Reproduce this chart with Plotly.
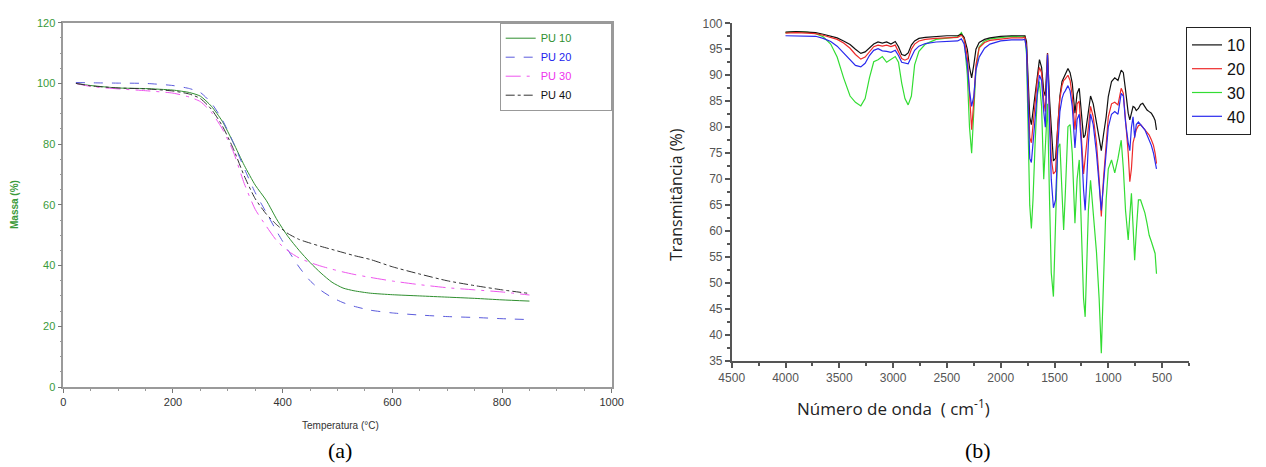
import plotly.graph_objects as go

# ---------------- TGA data (a) ----------------
tga_temp = [23, 50, 100, 150, 200, 230, 250, 270, 290, 310, 330, 350, 370, 390, 410,
            430, 450, 470, 490, 510, 530, 560, 600, 650, 700, 750, 800, 850]
pu10 = [100, 99.3, 98.5, 98.3, 97.8, 97.0, 95.8, 92.5, 87.5, 80.5, 73, 66.5, 61.5, 55, 49.5,
        45, 41, 37.5, 34.5, 32.6, 31.7, 30.9, 30.4, 30.0, 29.6, 29.2, 28.7, 28.3]
pu20 = [100.3, 100.2, 100.1, 100, 99.3, 98.3, 97, 93.5, 88, 80.5, 72, 64, 57.5, 51, 45,
        39.5, 35, 31.8, 29.5, 27.8, 26.6, 25.3, 24.4, 23.7, 23.2, 22.9, 22.5, 22.2]
pu30 = [100, 99, 98.2, 97.6, 96.8, 95.5, 94, 90.5, 85, 77.5, 67, 58.5, 53, 48, 44.8,
        42.5, 41, 39.8, 38.8, 37.9, 37.1, 36.1, 34.9, 33.7, 32.7, 32.0, 31.3, 30.3]
pu40 = [100, 99.2, 98.5, 98.2, 97.5, 96.5, 95, 91.5, 86, 78.5, 69.5, 62, 57, 53.3, 50.5,
        48.6, 47.4, 46.3, 45.3, 44.3, 43.3, 42.0, 39.6, 37.2, 35.0, 33.4, 32.0, 30.8]
tga_names = ["PU 10", "PU 20", "PU 30", "PU 40"]

# ---------------- FTIR data (b) ----------------
wn = [4000, 3900, 3800, 3720, 3650, 3580, 3520, 3460, 3400, 3350, 3300, 3260, 3220, 3180,
      3140, 3100, 3060, 3020, 2980, 2950, 2920, 2890, 2860, 2830, 2800, 2760, 2700, 2600,
      2500, 2400, 2365, 2340, 2310, 2290, 2270, 2250, 2230, 2200, 2150, 2100, 2000, 1900,
      1800, 1775, 1760, 1745, 1730, 1715, 1700, 1680, 1660, 1640, 1620, 1600, 1585, 1565,
      1545, 1530, 1510, 1490, 1470, 1450, 1430, 1415, 1400, 1375, 1355, 1335, 1310, 1290,
      1270, 1250, 1230, 1215, 1200, 1185, 1165, 1140, 1110, 1085, 1065, 1045, 1020, 1000,
      970, 940, 910, 880, 860, 840, 815, 800, 785, 770, 755, 740, 720, 700, 680, 660, 640,
      620, 600, 580, 565, 552]

t10 = [98.3, 98.4, 98.3, 98.2, 97.9, 97.6, 97.2, 96.6, 95.9, 95.0, 94.2, 94.5, 95.3, 96.0,
       96.4, 96.2, 96.4, 96.0, 96.5, 95.5, 94.0, 93.8, 94.3, 95.8, 96.6, 97.1, 97.3, 97.5,
       97.6, 97.6, 97.9, 97.3, 95.0, 91.5, 89.5, 92.0, 95.0, 96.3, 96.9, 97.2, 97.5, 97.6,
       97.5, 97.6, 96.5, 88.5, 82.0, 80.5, 83.0, 86.5, 90.5, 93.0, 91.5, 87.0, 86.0, 94.3,
       85.0, 79.0, 73.5, 74.0, 81.0, 86.0, 88.8, 89.5, 90.0, 91.3, 90.5, 88.5, 82.7, 86.5,
       87.5, 82.0, 78.0, 78.5, 81.0, 83.0, 86.0, 84.5, 81.0, 78.0, 75.5, 78.5, 82.0, 85.9,
       88.8, 89.5, 89.0, 91.0, 90.5, 87.2, 82.7, 81.4, 83.0, 84.0, 83.8, 83.2, 83.6, 84.4,
       84.6, 83.8, 83.3, 83.0, 82.7, 82.0, 81.3, 79.5]

t20 = [98.1, 98.2, 98.1, 98.0, 97.7, 97.3, 96.9, 96.2, 95.2, 94.0, 93.1, 93.5, 94.5, 95.5,
       95.8, 95.6, 95.8, 95.5, 95.8, 94.5, 93.2, 92.9, 93.2, 95.0, 96.0, 96.6, 96.9, 97.1,
       97.2, 97.3, 97.7, 97.0, 93.5, 86.0, 79.5, 85.0, 92.0, 95.3, 96.3, 96.7, 97.0, 97.2,
       97.2, 97.3, 95.5, 85.0, 78.0, 77.0, 80.5, 85.0, 89.0, 91.5, 90.5, 85.0, 83.0, 94.2,
       80.0, 74.0, 71.0, 71.5, 80.0, 85.5, 88.0, 89.0, 89.3, 90.0, 89.0, 86.0, 79.5, 84.5,
       85.0, 79.0, 71.0, 74.0, 77.0, 80.0, 84.0, 82.0, 77.0, 70.0, 62.8, 70.0, 77.0, 82.0,
       84.5, 84.8, 84.3, 87.5, 86.5, 82.0, 75.0, 69.5, 72.0, 77.0, 78.5, 79.5, 80.3, 80.5,
       80.0, 79.5, 79.0, 78.5, 77.6, 76.5, 75.0, 73.0]

t30 = [98.2, 98.4, 98.3, 98.0, 97.4, 96.0, 93.5, 89.5, 86.0, 84.8, 84.1, 85.5, 89.5, 92.6,
       93.0, 93.6, 92.5, 93.0, 93.6, 92.5, 88.5, 85.5, 84.3, 86.0, 92.0, 94.6, 96.0, 96.9,
       97.2, 97.4, 98.2, 97.0, 90.0, 80.0, 75.0, 82.0, 91.0, 95.5, 96.6, 97.0, 97.3, 97.5,
       97.4, 97.5, 94.0, 78.0, 65.0, 60.5, 66.0, 77.0, 86.0, 88.8, 84.0, 70.0, 76.0, 84.5,
       65.0, 52.0, 47.4, 60.0, 76.0, 76.8, 68.0, 60.2, 67.0, 80.1, 80.5, 75.0, 61.5, 70.0,
       73.7, 62.0, 47.0, 43.5, 55.0, 64.0, 69.8, 63.0, 56.0, 47.0, 36.5, 50.0, 66.0, 72.0,
       73.7, 71.2, 74.0, 77.5, 72.0, 64.0, 58.3, 63.0, 67.3, 61.0, 54.4, 60.0, 66.0, 66.0,
       64.7, 63.5, 61.5, 59.2, 58.0, 56.5, 55.7, 51.8]

t40 = [97.6, 97.6, 97.6, 97.5, 97.1, 96.5, 95.6, 94.3, 93.0, 91.9, 91.6, 92.3, 93.8, 94.8,
       95.1, 94.7, 94.6, 94.4, 94.8, 93.8, 92.5, 92.3, 92.2, 93.5, 94.8, 95.6, 96.1, 96.4,
       96.5, 96.6, 97.0, 96.0, 92.0, 87.0, 84.0, 86.0, 91.0, 93.5, 95.2, 96.0, 96.6, 96.8,
       96.8, 96.9, 95.0, 82.0, 74.0, 73.2, 77.0, 82.0, 86.5, 90.0, 89.0, 83.0, 80.0, 94.0,
       77.0, 70.0, 64.5, 66.0, 76.0, 83.0, 85.5, 86.5, 87.0, 88.0, 87.0, 84.0, 76.0, 81.5,
       82.5, 76.5, 68.0, 64.0, 70.0, 77.0, 82.5, 80.5, 75.0, 68.5, 64.0, 69.0, 76.0, 80.0,
       82.5, 83.0, 82.5, 86.5, 86.0, 81.0, 77.0, 75.5, 80.0, 82.0, 78.0, 80.5, 81.0, 80.5,
       80.0, 79.5, 78.5, 77.5, 76.5, 75.0, 73.5, 72.0]
ftir_names = ["10", "20", "30", "40"]

W, H = 1266, 467
def px(x):
    return x / W
def py(y):
    return (H - y) / H

fig = go.Figure()

# ---- TGA traces
tga_style = [
    (pu10, "#2f8f2f", "solid", "#2f8f2f"),
    (pu20, "#5b5bdc", "dash", "#2222ee"),
    (pu30, "#ee55ee", "longdashdot", "#ee33ee"),
    (pu40, "#333333", "dashdot", "#111111"),
]
pad = "&nbsp;" * 11
for name, (vals, col, dash, tcol) in zip(tga_names, tga_style):
    fig.add_trace(go.Scatter(
        x=tga_temp, y=vals, mode="lines",
        line=dict(color=col, width=1, dash=dash, shape="spline", smoothing=0.6),
        name=f"<span style='color:{tcol}'>{name}</span>{pad}", xaxis="x", yaxis="y", legend="legend"))

# ---- FTIR traces (green drawn first, underneath)
ftir_series = {"10": (t10, "#111111"), "20": (t20, "#ee2a2a"), "30": (t30, "#33dd33"), "40": (t40, "#2a2aee")}
for rank, key in [(3, "30"), (1, "10"), (2, "20"), (4, "40")]:
    vals, col = ftir_series[key]
    fig.add_trace(go.Scatter(
        x=wn, y=vals, mode="lines", line=dict(color=col, width=1.2),
        name=key, xaxis="x2", yaxis="y2", legend="legend2", legendrank=rank))

axis_font = dict(family="Liberation Sans, Arial", size=11)

def note(text, x, y, size, family, color="#222", angle=0):
    return dict(text=text, x=px(x), y=py(y), xref="paper", yref="paper",
                xanchor="center", yanchor="middle", textangle=angle, showarrow=False,
                font=dict(family=family, size=size, color=color))

fig.update_layout(
    width=W, height=H, autosize=False,
    margin=dict(l=0, r=0, t=0, b=0, pad=0, autoexpand=False),
    paper_bgcolor="white", plot_bgcolor="white",
    showlegend=True,
    xaxis=dict(domain=[px(63.3), px(611.7)], range=[0, 1000], dtick=200, tick0=0, automargin=False,
               showgrid=False, zeroline=False, showline=True, linecolor="#9a9a9a", linewidth=1.5,
               mirror=True, ticks="outside", ticklen=4, tickcolor="#777",
               minor=dict(dtick=50, ticks="outside", ticklen=2, tickcolor="#999"),
               tickfont=dict(axis_font, color="#333"), anchor="y"),
    yaxis=dict(domain=[py(387), py(22.7)], range=[0, 120], dtick=20, tick0=0, automargin=False,
               showgrid=False, zeroline=False, showline=True, linecolor="#9a9a9a", linewidth=1.5,
               mirror=True, ticks="outside", ticklen=4, tickcolor="#777",
               minor=dict(dtick=5, ticks="outside", ticklen=2, tickcolor="#999"),
               tickfont=dict(axis_font, color="#3a9a3a"), anchor="x"),
    xaxis2=dict(domain=[px(731.7), px(1189)], range=[4500, 250], dtick=500, tick0=500, automargin=False,
                showgrid=False, zeroline=False, showline=True, linecolor="#555", linewidth=1.5,
                ticks="outside", ticklen=5, tickcolor="#555", tickwidth=1.5,
                minor=dict(dtick=250, ticks="outside", ticklen=3, tickcolor="#555"),
                tickfont=dict(family="Liberation Sans, Arial", size=12, color="#555"), anchor="y2"),
    yaxis2=dict(domain=[py(361), py(23.3)], range=[35, 100], dtick=5, tick0=35, automargin=False,
                showgrid=False, zeroline=False, showline=True, linecolor="#555", linewidth=1.5,
                ticks="outside", ticklen=5, tickcolor="#555", tickwidth=1.5,
                minor=dict(dtick=2.5, ticks="outside", ticklen=3, tickcolor="#555"),
                tickfont=dict(family="Liberation Sans, Arial", size=12, color="#555"), anchor="x2"),
    legend=dict(x=px(611.7), y=py(22.7), xanchor="right", yanchor="top",
                bordercolor="#999", borderwidth=1, bgcolor="white",
                font=dict(family="Liberation Sans, Arial", size=11),
                tracegroupgap=0, itemwidth=30),
    legend2=dict(x=px(1186), y=py(27), xanchor="left", yanchor="top",
                 bordercolor="#222", borderwidth=1, bgcolor="white",
                 font=dict(family="Liberation Sans, Arial", size=16, color="#111"),
                 tracegroupgap=0, itemwidth=30),
    annotations=[
        note("<b>Massa (%)</b>", 14, 205, 10, "Liberation Sans, Arial", "#3a9a3a", -90),
        note("Temperatura (°C)", 340, 425, 10, "Liberation Sans, Arial", "#333"),
        note("(a)", 340, 450, 22, "Liberation Serif, Times New Roman", "#000"),
        note("(b)", 978, 450, 22, "Liberation Serif, Times New Roman", "#000"),
        note("Transmitância (%)", 676, 195, 16, "Open Sans, Noto Sans", "#222", -90),
        note("Número de onda  ( cm<sup>-1</sup>)", 893, 407, 17, "Open Sans, Noto Sans", "#222"),
    ],
)

fig.write_html("out.html", config={"displayModeBar": False},
               post_script="document.body.style.margin='0';document.body.style.overflow='hidden';")
